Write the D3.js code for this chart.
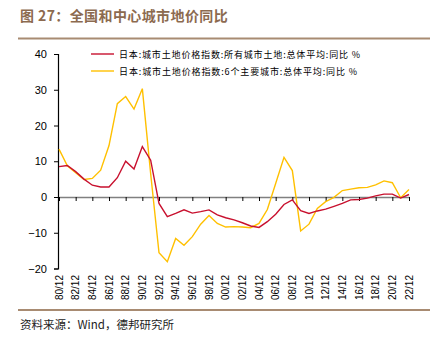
<!DOCTYPE html>
<html><head><meta charset="utf-8">
<script src="https://cdn.jsdelivr.net/npm/d3@7"></script>
<style>body{margin:0;background:#fff}svg{display:block}</style>
</head><body>
<svg id="c" width="444" height="338"></svg>
<script>
const years = d3.range(1980, 2023);
const allCities = [8.5,8.8,7.1,5.0,3.3,2.8,2.8,5.4,10.0,7.8,14.1,10.3,-1.8,-5.5,-4.6,-3.6,-4.5,-4.1,-3.6,-5.0,-5.8,-6.4,-7.2,-8.1,-8.5,-6.9,-4.8,-2.1,-0.8,-3.8,-4.6,-3.9,-3.4,-2.6,-1.8,-0.8,-0.7,-0.3,0.3,0.8,0.8,-0.3,0.7];
const sixCities = [13.4,8.7,6.8,4.9,5.2,7.5,14.4,26.1,28.1,24.6,30.3,6.5,-15.6,-18.1,-11.6,-13.5,-11.1,-7.6,-5.2,-7.4,-8.4,-8.3,-8.4,-8.6,-7.4,-3.5,3.8,11.1,7.4,-9.5,-7.6,-3.2,-1.3,-0.1,1.8,2.2,2.6,2.7,3.4,4.5,4.0,-0.2,2.1];
const yTicks = [-20,-10,0,10,20,30,40];
const xTickYears = d3.range(1980, 2023, 2);
const seriesNames = ["日本:城市土地价格指数:所有城市土地:总体平均:同比 %","日本:城市土地价格指数:6个主要城市:总体平均:同比 %"];
const colors = ["#C8102E","#FFC000"];
const title = "图 27：全国和中心城市地价同比";
const source = "资料来源：Wind，德邦研究所";

const svg = d3.select("#c");
const x = d3.scaleLinear().domain([1980, 2022]).range([59, 409]);
const y = d3.scaleLinear().domain([-20, 40]).range([268.5, 54]);
const font = "'Liberation Sans', Arial, sans-serif";
const cjk = "'Noto Sans CJK SC', sans-serif";

// title
svg.append("text").attr("x", 20).attr("y", 21).attr("font-family", cjk).attr("font-weight", "bold")
  .attr("font-size", 14).attr("letter-spacing", 0.4).attr("fill", "#8C6A4F").text(title);
svg.append("line").attr("x1", 18).attr("x2", 430).attr("y1", 38.5).attr("y2", 38.5)
  .attr("stroke", "#A88B72").attr("stroke-width", 2);
svg.append("line").attr("x1", 18).attr("x2", 430).attr("y1", 310).attr("y2", 310)
  .attr("stroke", "#A88B72").attr("stroke-width", 2);
svg.append("text").attr("x", 20).attr("y", 329).attr("font-family", cjk)
  .attr("font-size", 11.5).attr("fill", "#222").text(source);

// y axis
const yAxis = svg.append("g").attr("transform", "translate(58,0)")
  .call(d3.axisLeft(y).tickValues(yTicks).tickSize(4).tickPadding(7).tickFormat(d3.format("d")));
yAxis.select(".domain").attr("stroke", "#000").attr("stroke-width", 1.2);
yAxis.selectAll(".tick line").attr("stroke", "#000");
yAxis.selectAll("text").attr("font-family", font).attr("font-size", 11).attr("fill", "#000");

// x axis at zero
const xAxis = svg.append("g").attr("transform", `translate(0,${y(0)})`)
  .call(d3.axisBottom(x).tickValues(xTickYears).tickSize(4).tickSizeOuter(0).tickFormat(""));
xAxis.select(".domain").attr("stroke", "#808080").attr("stroke-width", 1.5);
xAxis.selectAll(".tick line").attr("stroke", "#000");

// x labels at bottom
svg.append("g").selectAll("text").data(xTickYears).join("text")
  .attr("transform", d => `translate(${x(d) + 3.5},275) rotate(-90)`)
  .attr("text-anchor", "end").attr("font-family", font).attr("font-size", 10).attr("fill", "#000")
  .text(d => String(d % 100).padStart(2, "0") + "/12");

// lines
const line = d3.line().x((d, i) => x(years[i])).y(d => y(d));
[sixCities, allCities].forEach((s, k) => {
  svg.append("path").datum(s).attr("d", line).attr("fill", "none")
    .attr("stroke", k === 0 ? colors[1] : colors[0]).attr("stroke-width", 1.4);
});

// legend
const legendLens = [241, 238];
seriesNames.forEach((n, i) => {
  const ly = 54 + i * 17;
  svg.append("line").attr("x1", 91).attr("x2", 114).attr("y1", ly).attr("y2", ly)
    .attr("stroke", colors[i]).attr("stroke-width", 1.4);
  svg.append("text").attr("x", 119).attr("y", ly + 3.5).attr("font-family", cjk)
    .attr("font-size", 9).attr("fill", "#000")
    .attr("textLength", legendLens[i]).attr("lengthAdjust", "spacing").text(n);
});
</script>
</body></html>
